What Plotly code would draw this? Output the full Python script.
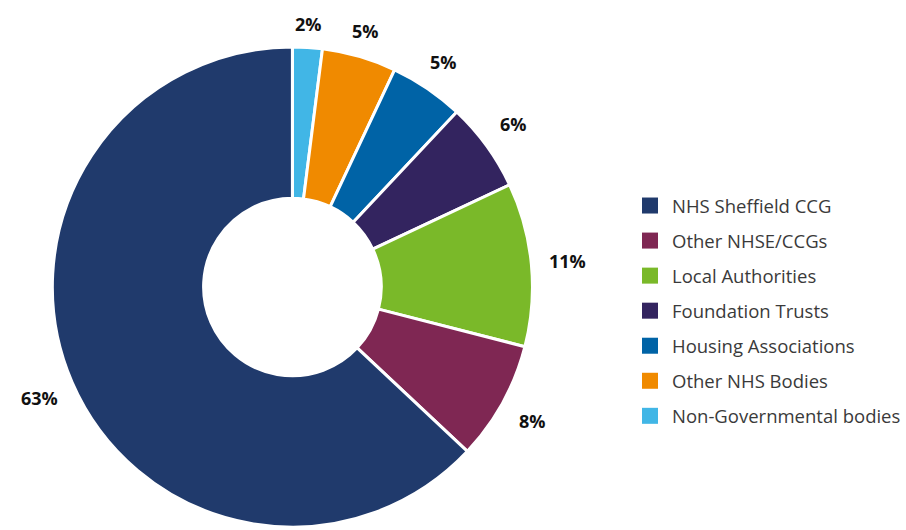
import math
import plotly.graph_objects as go

categories = ["NHS Sheffield CCG", "Other NHSE/CCGs", "Local Authorities",
              "Foundation Trusts", "Housing Associations", "Other NHS Bodies",
              "Non-Governmental bodies"]
shares = [63, 8, 11, 6, 5, 5, 2]
colors = ["#203A6C", "#7F2753", "#7AB929", "#33245F", "#0063A6", "#F08A00", "#41B6E6"]

W, H = 906, 530
cx, cy, r = 296, 287, 243

fig = go.Figure()
# slices run clockwise from 12 o'clock in reverse legend order
pie_labels = categories[::-1]
pie_values = shares[::-1]
fig.add_trace(go.Pie(
    labels=pie_labels, values=pie_values, sort=False, direction="clockwise",
    rotation=0, hole=0.37,
    marker=dict(colors=colors[::-1], line=dict(color="white", width=3)),
    textinfo="none", showlegend=False, hoverinfo="label+percent",
    domain=dict(x=[(cx - r) / W, (cx + r) / W], y=[(H - cy - r) / H, (H - cy + r) / H]),
))

# percentage labels placed just outside each slice's mid-angle
total = sum(pie_values)
cum = 0
for v in pie_values:
    theta = 2 * math.pi * (cum + v / 2) / total
    cum += v
    s, c = math.sin(theta), math.cos(theta)
    R = r + 19 + 18 * abs(s)
    fig.add_annotation(
        x=(cx + R * s) / W, y=1 - (cy - R * c) / H, xref="paper", yref="paper",
        text=f"<b>{v}%</b>", showarrow=False, xanchor="center", yanchor="middle",
        font=dict(family="Open Sans", size=18, color="#111111"),
    )

for name, col in zip(categories, colors):
    fig.add_trace(go.Scatter(
        x=[None], y=[None], mode="markers", name=name, legendgroup=name,
        marker=dict(symbol="square", size=16, color=col),
    ))

fig.update_layout(
    width=W, height=H, margin=dict(l=0, r=0, t=0, b=0),
    paper_bgcolor="white", plot_bgcolor="white",
    xaxis=dict(visible=False), yaxis=dict(visible=False),
    legend=dict(x=0.702, y=1 - 187 / H, xanchor="left", yanchor="top",
                font=dict(family="Open Sans", size=18.5, color="#3a3a3a"),
                tracegroupgap=8, itemwidth=34, bgcolor="rgba(0,0,0,0)"),
)
fig.write_html("out.html")
